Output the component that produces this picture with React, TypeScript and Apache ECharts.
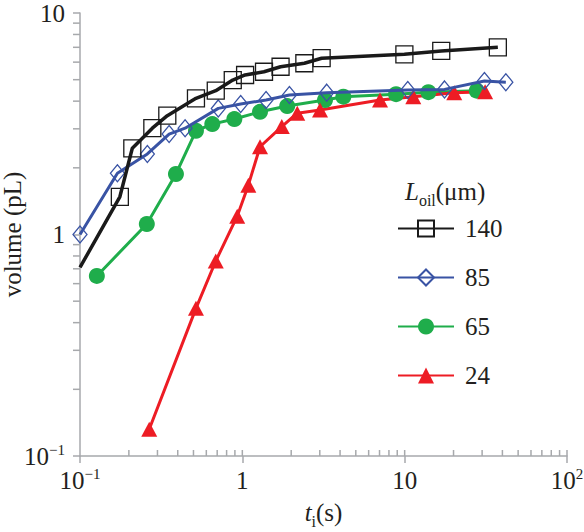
import React, { useEffect, useRef } from 'react';
import * as echarts from 'echarts';

// L_oil = 140 µm
const t140 = [0.1, 0.176, 0.21, 0.279, 0.345, 0.518, 0.686, 0.873, 1.04, 1.36, 1.72, 2.41, 3.08, 9.96, 16.8, 37.5];
const v140 = [0.71, 1.48, 2.45, 3.02, 3.44, 4.12, 4.46, 4.98, 5.25, 5.43, 5.72, 5.93, 6.25, 6.51, 6.74, 7.0];
// L_oil = 85 µm
const t85 = [0.1, 0.17, 0.26, 0.354, 0.444, 0.711, 0.977, 1.4, 1.95, 3.31, 10.45, 17.6, 31.0, 42.0];
const v85 = [1.0, 1.89, 2.31, 2.84, 3.02, 3.71, 3.88, 4.05, 4.26, 4.37, 4.49, 4.52, 4.93, 4.87];
// L_oil = 65 µm
const t65 = [0.127, 0.258, 0.39, 0.518, 0.653, 0.893, 1.285, 1.89, 3.23, 4.19, 8.85, 14.0, 27.8];
const v65 = [0.65, 1.115, 1.876, 2.94, 3.15, 3.32, 3.58, 3.8, 4.05, 4.19, 4.3, 4.39, 4.46];
// L_oil = 24 µm
const t24 = [0.267, 0.518, 0.686, 0.93, 1.089, 1.285, 1.75, 2.18, 3.01, 7.05, 11.3, 20.2, 31.3];
const v24 = [0.132, 0.464, 0.759, 1.21, 1.67, 2.49, 3.07, 3.53, 3.65, 4.05, 4.19, 4.37, 4.41];

const seriesNames = ['140', '85', '65', '24'];

// tick labels by decade exponent (x: -1..2, y: -1..1)
const xTickLabels = ['10{sup|\u22121}', '1', '10', '10{sup|2}'];
const yTickLabels = ['10{sup|\u22121}', '1', '10'];

// minor tick values
const xMinorTicks = [0.2, 0.3, 0.4, 0.5, 0.6, 0.7, 0.8, 0.9, 1, 2, 3, 4, 5, 6, 7, 8, 9, 10, 20, 30, 40, 50, 60, 70, 80, 90, 100];
const yMinorTicks = [0.2, 0.3, 0.4, 0.5, 0.6, 0.7, 0.8, 0.9, 2, 3, 4, 5, 6, 7, 8, 9];

const SERIF = '"Liberation Serif", "DejaVu Serif", serif';
const AXIS = '#a7a9ac';
const INK = '#231f20';

function pairs(t: number[], v: number[]) {
  return t.map((x, i) => [x, v[i]]);
}

export default function App() {
  const ref = useRef<HTMLDivElement>(null);
  useEffect(() => {
    if (!ref.current) return;
    const chart = echarts.init(ref.current, null, { renderer: 'svg' });
    const supRich = {
      sup: { fontSize: 15, fontFamily: SERIF, color: INK, verticalAlign: 'top', lineHeight: 14 },
    };
    const d140: any[] = pairs(t140, v140);
    d140[0] = { value: d140[0], symbol: 'none' };
    const option: any = {
      animation: false,
      grid: { left: 80, right: 17, top: 13, bottom: 76, outerBoundsMode: 'none', containLabel: false },
      xAxis: {
        type: 'log',
        logBase: 10,
        min: 0.1,
        max: 100,
        name: '{i|t}{sub|i}(s)',
        nameLocation: 'middle',
        nameGap: 39,
        nameMoveOverlap: false,
        nameTextStyle: {
          fontFamily: SERIF,
          fontSize: 25,
          color: INK,
          lineHeight: 34,
          rich: {
            i: { fontStyle: 'italic', fontFamily: SERIF, fontSize: 25, color: INK, lineHeight: 34 },
            sub: { fontFamily: SERIF, fontSize: 16, color: INK, verticalAlign: 'bottom', lineHeight: 14 },
          },
        },
        axisLine: { lineStyle: { color: AXIS, width: 1.5 } },
        axisTick: { show: true, inside: false, length: 7, lineStyle: { color: AXIS, width: 1.5 } },
        splitLine: { show: false },
        axisLabel: {
          margin: 10,
          fontFamily: SERIF,
          fontSize: 25,
          color: INK,
          lineHeight: 28,
          formatter: (v: number) => xTickLabels[Math.round(Math.log10(v)) + 1],
          rich: supRich,
        },
      },
      yAxis: {
        type: 'log',
        logBase: 10,
        min: 0.1,
        max: 10,
        name: 'volume (pL)',
        nameLocation: 'middle',
        nameGap: 55,
        nameMoveOverlap: false,
        nameTextStyle: { fontFamily: SERIF, fontSize: 25, color: INK },
        axisLine: { lineStyle: { color: AXIS, width: 1.5 } },
        axisTick: { show: true, inside: false, length: 7, lineStyle: { color: AXIS, width: 1.5 } },
        splitLine: { show: false },
        axisLabel: {
          margin: 15,
          fontFamily: SERIF,
          fontSize: 25,
          color: INK,
          lineHeight: 28,
          formatter: (v: number) => yTickLabels[Math.round(Math.log10(v)) + 1],
          rich: supRich,
        },
      },
      legend: {
        data: seriesNames,
        orient: 'vertical',
        left: 397,
        top: 216,
        padding: 0,
        itemWidth: 56,
        itemHeight: 20,
        itemGap: 24,
        selectedMode: false,
        textStyle: { fontFamily: SERIF, fontSize: 25, color: INK, padding: [0, 0, 0, 6] },
      },
      graphic: [
        {
          type: 'text',
          left: 405,
          top: 174,
          style: {
            text: '{i|L}{s|oil}(\u03bcm)',
            fontFamily: SERIF,
            fontSize: 25,
            lineHeight: 34,
            fill: INK,
            rich: {
              i: { fontStyle: 'italic', fontFamily: SERIF, fontSize: 25, fill: INK, lineHeight: 34 },
              s: { fontFamily: SERIF, fontSize: 16, fill: INK, verticalAlign: 'bottom', lineHeight: 14 },
            },
          },
        },
      ],
      series: [
        {
          name: '140',
          type: 'line',
          data: d140,
          symbol: 'rect',
          symbolSize: 17,
          lineStyle: { color: '#1a1a1a', width: 3.5 },
          itemStyle: { color: 'rgba(255,255,255,0)', borderColor: '#1a1a1a', borderWidth: 1.3 },
          z: 5,
        },
        {
          name: '85',
          type: 'line',
          data: pairs(t85, v85),
          symbol: 'diamond',
          symbolSize: [14, 17],
          lineStyle: { color: '#3953a4', width: 3 },
          itemStyle: { color: 'rgba(255,255,255,0)', borderColor: '#3953a4', borderWidth: 1.3 },
          z: 4,
        },
        {
          name: '65',
          type: 'line',
          data: pairs(t65, v65),
          symbol: 'circle',
          symbolSize: 16,
          lineStyle: { color: '#1fad4b', width: 3 },
          itemStyle: { color: '#1fad4b' },
          z: 3,
        },
        {
          name: '24',
          type: 'line',
          data: pairs(t24, v24),
          symbol: 'triangle',
          symbolSize: [16, 15],
          lineStyle: { color: '#ed1c24', width: 3 },
          itemStyle: { color: '#ed1c24' },
          z: 3,
        },
        {
          type: 'custom',
          silent: true,
          clip: false,
          z: 1,
          data: xMinorTicks.map((v) => [v, 0.1]),
          renderItem: (_p: any, api: any) => {
            const p = api.coord([api.value(0), api.value(1)]);
            return {
              type: 'line',
              shape: { x1: p[0], y1: p[1], x2: p[0], y2: p[1] - 6 },
              style: { stroke: AXIS, lineWidth: 1.5 },
            };
          },
        },
        {
          type: 'custom',
          silent: true,
          clip: false,
          z: 1,
          data: yMinorTicks.map((v) => [0.1, v]),
          renderItem: (_p: any, api: any) => {
            const p = api.coord([api.value(0), api.value(1)]);
            return {
              type: 'line',
              shape: { x1: p[0], y1: p[1], x2: p[0] - 7, y2: p[1] },
              style: { stroke: AXIS, lineWidth: 1.5 },
            };
          },
        },
      ],
    };
    chart.setOption(option);
    return () => chart.dispose();
  }, []);
  return (
    <div
      ref={ref}
      style={{ position: 'fixed', left: 0, top: 0, width: 584, height: 532, background: '#fff' }}
    />
  );
}
